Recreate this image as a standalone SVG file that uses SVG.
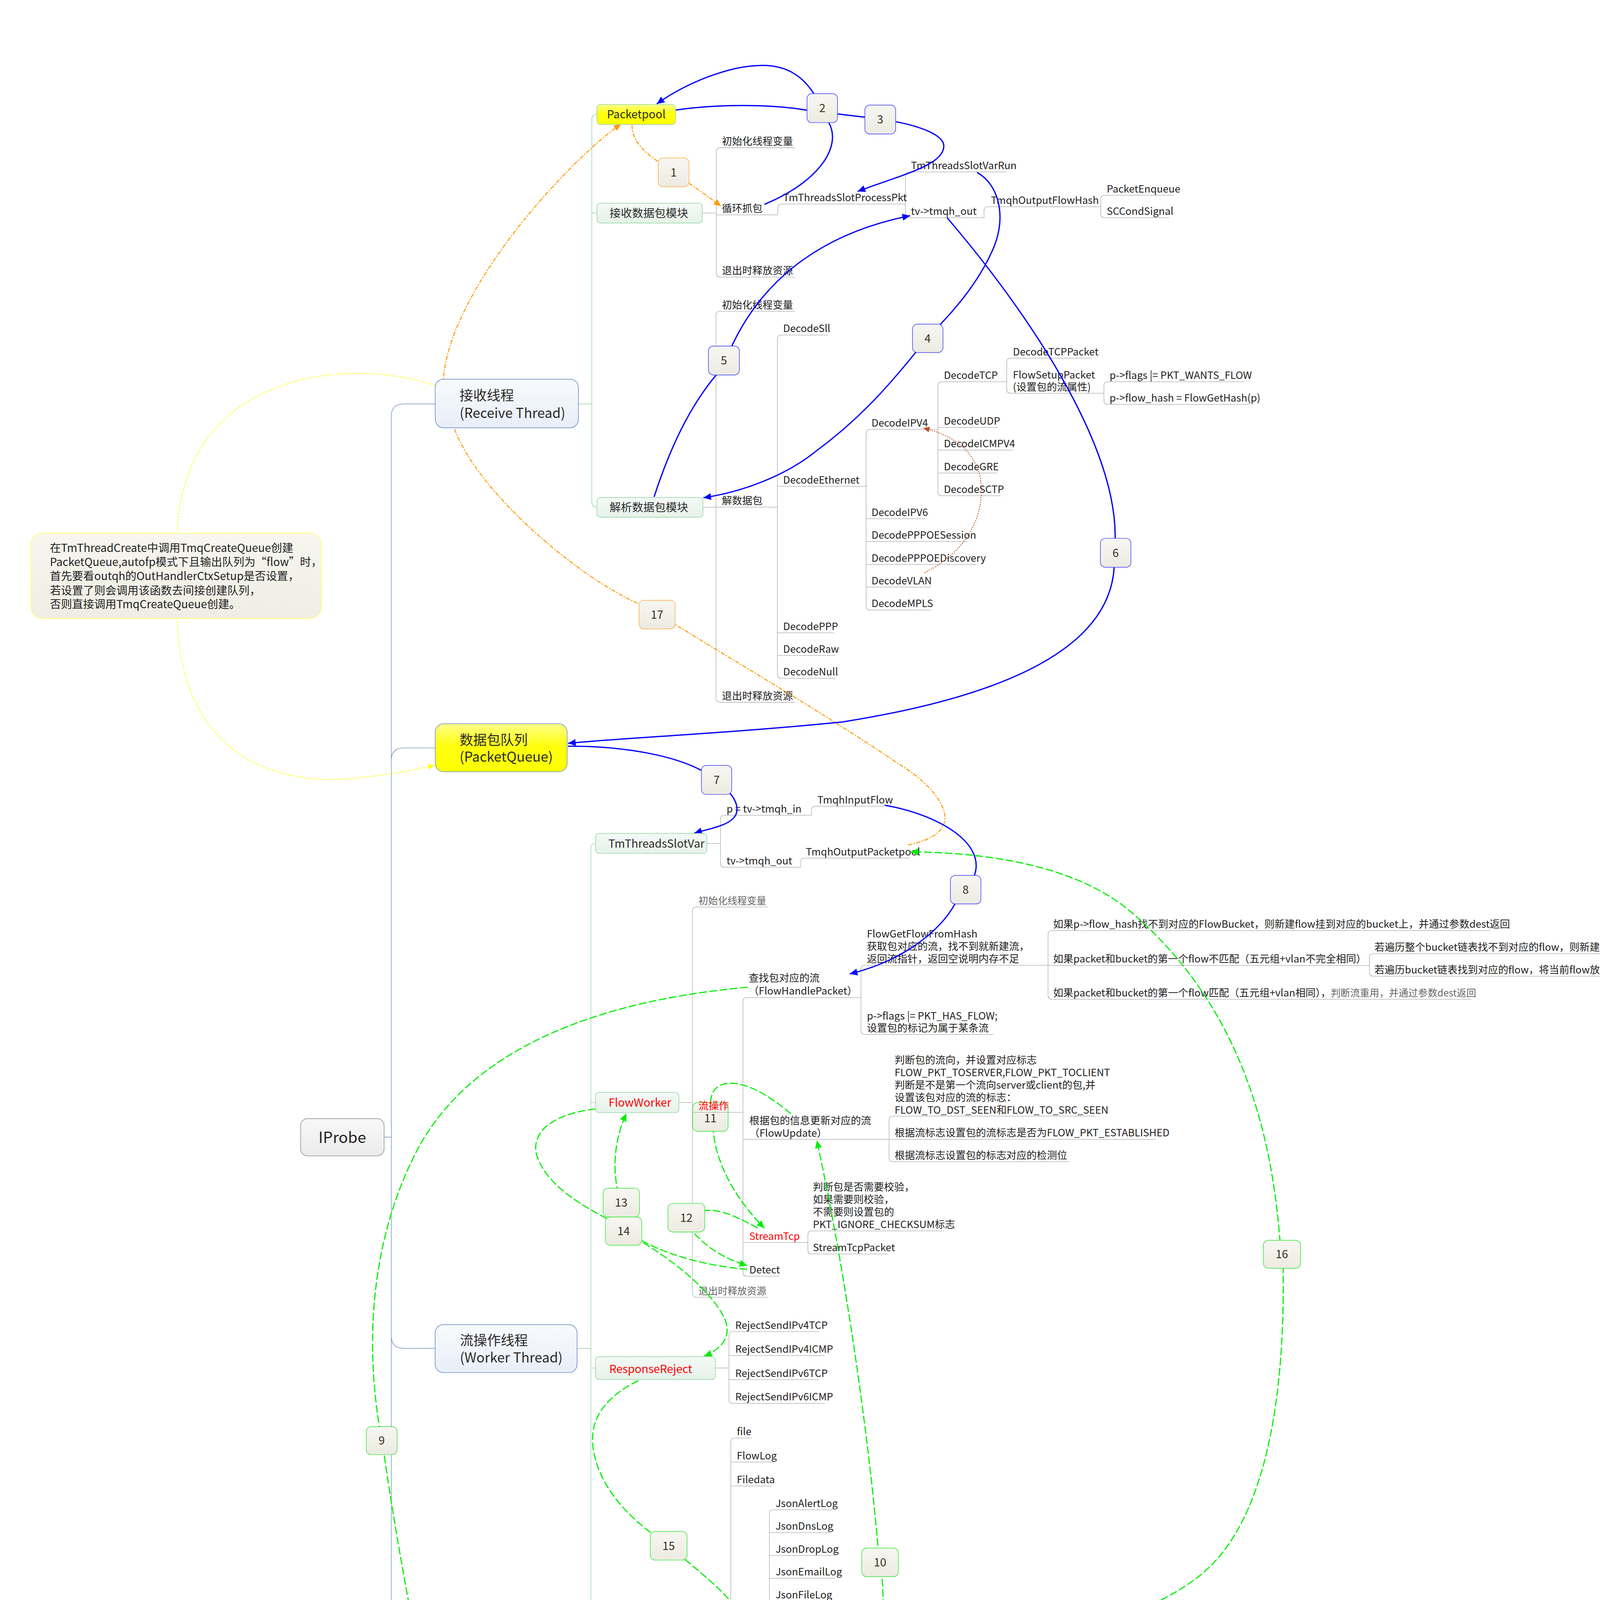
<svg xmlns="http://www.w3.org/2000/svg" width="4818" height="5632" viewBox="0 0 4818 5632">
<defs>
<linearGradient id="gBlue" x1="0" y1="0" x2="0" y2="1"><stop offset="0" stop-color="#f8fafd"/><stop offset="1" stop-color="#e8eef8"/></linearGradient>
<linearGradient id="gYel" x1="0" y1="0" x2="0" y2="1"><stop offset="0" stop-color="#ffff8a"/><stop offset="0.45" stop-color="#ffff10"/><stop offset="1" stop-color="#ffff00"/></linearGradient>
<linearGradient id="gGreen" x1="0" y1="0" x2="0" y2="1"><stop offset="0" stop-color="#f4f9f5"/><stop offset="1" stop-color="#e6f2e9"/></linearGradient>
<linearGradient id="gBadge" x1="0" y1="0" x2="0" y2="1"><stop offset="0" stop-color="#f7f6f1"/><stop offset="1" stop-color="#ecebe2"/></linearGradient>
<linearGradient id="gNote" x1="0" y1="0" x2="0" y2="1"><stop offset="0" stop-color="#f7f6ef"/><stop offset="1" stop-color="#efeee4"/></linearGradient>
<linearGradient id="gGray" x1="0" y1="0" x2="0" y2="1"><stop offset="0" stop-color="#f8f8f8"/><stop offset="1" stop-color="#ebebeb"/></linearGradient>
<marker id="mB" viewBox="0 0 10 10" refX="10" refY="5" markerWidth="5.5" markerHeight="5.5" orient="auto" markerUnits="userSpaceOnUse"><path d="M0,0.5 L10,5 L0,9.5 z" fill="#0000ff"/></marker>
<marker id="mG" viewBox="0 0 10 10" refX="10" refY="5" markerWidth="5.5" markerHeight="5.5" orient="auto" markerUnits="userSpaceOnUse"><path d="M0,0.5 L10,5 L0,9.5 z" fill="#00ee00"/></marker>
<marker id="mR" viewBox="0 0 10 10" refX="10" refY="5" markerWidth="6" markerHeight="6" orient="auto" markerUnits="userSpaceOnUse"><path d="M0,0.5 L10,5 L0,9.5 z" fill="#ff0000"/></marker>
<marker id="mO" viewBox="0 0 10 10" refX="10" refY="5" markerWidth="5" markerHeight="5" orient="auto" markerUnits="userSpaceOnUse"><path d="M0,0.5 L10,5 L0,9.5 z" fill="#ff9900"/></marker>
<marker id="mY" viewBox="0 0 10 10" refX="10" refY="5" markerWidth="4.5" markerHeight="4.5" orient="auto" markerUnits="userSpaceOnUse"><path d="M0,0.5 L10,5 L0,9.5 z" fill="#ffff00"/></marker>
<marker id="mBr" viewBox="0 0 10 10" refX="10" refY="5" markerWidth="4.5" markerHeight="4.5" orient="auto" markerUnits="userSpaceOnUse"><path d="M0,0.5 L10,5 L0,9.5 z" fill="#c0501a"/></marker>
</defs>
<style>
text{font-family:"Noto Sans CJK SC","Liberation Sans",sans-serif;fill:#222;}
.t{font-size:7.23px;}
.tgr{font-size:6.9px;fill:#666;}
.tm{font-size:9.7px;fill:#2a2a2a;}
.ts{font-size:8px;fill:#2a2a2a;}
.tb{font-size:8px;text-anchor:middle;fill:#3a2e1a;}
.red{fill:#ff0000;}
.ln{fill:none;stroke:#a8a8a8;stroke-width:0.35;}
.gl{fill:none;stroke:#96d2a4;stroke-width:0.4;}
.bus{fill:none;stroke:#6f8fc0;stroke-width:0.4;}
.nb{fill:url(#gBlue);stroke:#5a82c0;stroke-width:0.4;}
.ny{fill:url(#gYel);stroke:#6f8fc0;stroke-width:0.4;}
.ng{fill:url(#gGreen);stroke:#8fd3a0;stroke-width:0.4;}
.bgB{fill:url(#gBadge);stroke:#3b3bff;stroke-width:0.4;}
.bgO{fill:url(#gBadge);stroke:#ffae42;stroke-width:0.4;}
.bgG{fill:url(#gBadge);stroke:#33e633;stroke-width:0.4;}
.bgR{fill:url(#gBadge);stroke:#ff3b3b;stroke-width:0.4;}
.cb{fill:none;stroke:#0000ff;stroke-width:0.9;}
.cg{fill:none;stroke:#00ee00;stroke-width:0.8;stroke-dasharray:5.5 1.8;}
.cr{fill:none;stroke:#ff0000;stroke-width:0.85;stroke-dasharray:7.5 2;}
.co{fill:none;stroke:#ff9900;stroke-width:0.7;stroke-dasharray:3 1 1 1;}
.cy{fill:none;stroke:#ffff00;stroke-width:0.6;stroke-dasharray:1 1;}
.cbr{fill:none;stroke:#c0501a;stroke-width:0.6;stroke-dasharray:0.8 0.9;}
</style>
<rect x="0" y="0" width="4818" height="5632" fill="#ffffff"/>
<g transform="scale(3.5955)">

<g id="branches">
<path class="bus" d="M273.5,809.6 H278.6 M309.9,287.6 H287.6 Q278.6,287.6 278.6,296.6 V1524.8 Q278.6,1533.8 287.6,1533.8 H309.6 M278.6,541.5 Q278.6,532.5 287.6,532.5 H309.9 M278.6,951 Q278.6,960 287.6,960 H309.8 M278.6,1378.6 Q278.6,1387.6 287.6,1387.6 H309.6 M278.6,1454.8 Q278.6,1463.8 287.6,1463.8 H309.6"/>
<path class="gl" d="M411.8,287.6 H421.4 M425,81.5 Q421.4,81.5 421.4,85 V357.6 Q421.4,361.2 425,361.2 M421.4,151.7 H425"/>
<path class="gl" d="M410.9,960 H420.7 M424,600.5 Q420.7,600.5 420.7,604 V1185.5 Q420.7,1189 424,1189 M420.7,785 H424 M420.7,974 H424"/>
<path class="gl" d="M408.3,1463.8 H417.7 M421.4,1427 Q417.7,1427 417.7,1430.5 V1497.5 Q417.7,1501 421.4,1501 M417.7,1448 H421.4 M417.7,1474.5 H421.4"/>
<path class="ln" d="M500,151.7 H510 M513,105.2 Q510,105.2 510,108 V194.5 Q510,197.3 513,197.3"/>
<path class="ln" d="M647.5,122.4 Q644.7,122.4 644.7,125.2 V152.2 Q644.7,155 647.5,155"/>
<path class="ln" d="M782.6,147.2 H783.7 M786.5,139 Q783.7,139 783.7,141.8 V152.2 Q783.7,155 786.5,155"/>
<path class="ln" d="M500.5,361.2 H509.8 M512.6,221.6 Q509.8,221.6 509.8,224.4 V497.2 Q509.8,500 512.6,500"/>
<path class="ln" d="M556.3,238.5 Q553.5,238.5 553.5,241.3 V480.1 Q553.5,482.9 556.3,482.9"/>
<path class="ln" d="M619.5,305.7 Q616.7,305.7 616.7,308.5 V431.5 Q616.7,434.3 619.5,434.3"/>
<path class="ln" d="M670.6,271.8 Q667.8,271.8 667.8,274.6 V350.2 Q667.8,353 670.6,353"/>
<path class="ln" d="M719.6,255 Q716.8,255 716.8,257.8 V277.2 Q716.8,280 719.6,280"/>
<path class="ln" d="M788.8,271.8 Q786,271.8 786,274.6 V285.1 Q786,287.9 788.8,287.9"/>
<path class="ln" d="M503.3,600.6 H513 M515.8,580.5 Q513,580.5 513,583.3 V614.7 Q513,617.5 515.8,617.5"/>
<path class="ln" d="M483.4,785 H493 M495.8,645.8 Q493,645.8 493,648.6 V920.8 Q493,923.6 495.8,923.6"/>
<path class="ln" d="M531.8,710.3 Q529,710.3 529,713.1 V905.9 Q529,908.7 531.8,908.7"/>
<path class="ln" d="M615.8,687.3 Q613,687.3 613,690.1 V733.7 Q613,736.5 615.8,736.5"/>
<path class="ln" d="M749,662.6 Q746.2,662.6 746.2,665.4 V708.7 Q746.2,711.5 749,711.5"/>
<path class="ln" d="M977.8,679 Q975,679 975,681.8 V692.3 Q975,695.1 977.8,695.1"/>
<path class="ln" d="M635.8,794.7 Q633,794.7 633,797.5 V824.3 Q633,827.1 635.8,827.1"/>
<path class="ln" d="M578,876.4 Q575.2,876.4 575.2,879.2 V890 Q575.2,892.8 578,892.8"/>
<path class="ln" d="M509.4,974 H519 M521.8,948.1 Q519,948.1 519,950.9 V996.4 Q519,999.2 521.8,999.2"/>
<path class="ln" d="M510.7,1189.2 H520.3 M523.1,1023.9 Q520.3,1023.9 520.3,1026.7 V1352.6 Q520.3,1355.4 523.1,1355.4"/>
<path class="ln" d="M550.6,1075 Q547.8,1075 547.8,1077.8 V1267.2 Q547.8,1270 550.6,1270"/>
</g>

<g id="leaves">
<g id="n-recv-init"><path class="ln" d="M513,105.2 H566"/><text class="t" x="514" y="103.2">初始化线程变量</text></g>
<g id="n-loop"><path class="ln" d="M510,153 H553.8"/><text class="t" x="514" y="151">循环抓包</text></g>
<g id="n-recv-exit"><path class="ln" d="M513,197.3 H566"/><text class="t" x="514" y="195.3">退出时释放资源</text></g>
<g id="n-processpkt"><path class="ln" d="M553.8,153 V148 Q553.8,145.3 556.6,145.3 H644.7"/><text class="t" x="557.6" y="143.3">TmThreadsSlotProcessPkt</text></g>
<g id="n-varrun"><path class="ln" d="M647.5,122.4 H716.7"/><text class="t" x="648.6" y="120.4">TmThreadsSlotVarRun</text></g>
<g id="n-tmqhout1"><path class="ln" d="M647.5,155 H700.6"/><text class="t" x="648.6" y="153">tv-&gt;tmqh_out</text></g>
<g id="n-flowhash"><path class="ln" d="M700.6,155 V150 Q700.6,147.2 703.4,147.2 H782.6"/><text class="t" x="705.5" y="145.2">TmqhOutputFlowHash</text></g>
<g id="n-enqueue"><path class="ln" d="M786.5,139 H835.5"/><text class="t" x="788" y="137">PacketEnqueue</text></g>
<g id="n-signal"><path class="ln" d="M786.5,155 H832.6"/><text class="t" x="788" y="153">SCCondSignal</text></g>
<g id="n-dec-init"><path class="ln" d="M512.6,221.6 H566"/><text class="t" x="514" y="219.6">初始化线程变量</text></g>
<g id="n-decode"><path class="ln" d="M509.8,361.1 H553.5"/><text class="t" x="514" y="359.1">解数据包</text></g>
<g id="n-dec-exit"><path class="ln" d="M512.6,500 H566"/><text class="t" x="514" y="498">退出时释放资源</text></g>
<g id="n-sll"><path class="ln" d="M556.3,238.5 H589.6"/><text class="t" x="557.6" y="236.5">DecodeSll</text></g>
<g id="n-eth"><path class="ln" d="M553.5,346.2 H616.7"/><text class="t" x="557.6" y="344.2">DecodeEthernet</text></g>
<g id="n-ppp"><path class="ln" d="M553.5,450.5 H593.8"/><text class="t" x="557.6" y="448.5">DecodePPP</text></g>
<g id="n-raw"><path class="ln" d="M553.5,466.7 H595"/><text class="t" x="557.6" y="464.7">DecodeRaw</text></g>
<g id="n-null"><path class="ln" d="M556.3,482.9 H595"/><text class="t" x="557.6" y="480.9">DecodeNull</text></g>
<g id="n-ipv4"><path class="ln" d="M619.5,305.7 H667.8"/><text class="t" x="620.5" y="303.7">DecodeIPV4</text></g>
<g id="n-ipv6"><path class="ln" d="M616.7,369.3 H659"/><text class="t" x="620.5" y="367.3">DecodeIPV6</text></g>
<g id="n-pppoes"><path class="ln" d="M616.7,385.6 H688.6"/><text class="t" x="620.5" y="383.6">DecodePPPOESession</text></g>
<g id="n-pppoed"><path class="ln" d="M616.7,401.9 H695.3"/><text class="t" x="620.5" y="399.9">DecodePPPOEDiscovery</text></g>
<g id="n-vlan"><path class="ln" d="M616.7,418 H663"/><text class="t" x="620.5" y="416">DecodeVLAN</text></g>
<g id="n-mpls"><path class="ln" d="M619.5,434.3 H663"/><text class="t" x="620.5" y="432.3">DecodeMPLS</text></g>
<g id="n-tcp"><path class="ln" d="M670.6,271.8 H716.8"/><text class="t" x="672" y="269.8">DecodeTCP</text></g>
<g id="n-udp"><path class="ln" d="M667.8,304.4 H710.3"/><text class="t" x="672" y="302.4">DecodeUDP</text></g>
<g id="n-icmp"><path class="ln" d="M667.8,320.5 H721"/><text class="t" x="672" y="318.5">DecodeICMPV4</text></g>
<g id="n-gre"><path class="ln" d="M667.8,336.8 H709.8"/><text class="t" x="672" y="334.8">DecodeGRE</text></g>
<g id="n-sctp"><path class="ln" d="M670.6,353 H712.6"/><text class="t" x="672" y="351">DecodeSCTP</text></g>
<g id="n-tcppkt"><path class="ln" d="M719.6,255 H777.4"/><text class="t" x="721.2" y="253">DecodeTCPPacket</text></g>
<g id="n-flowsetup"><path class="ln" d="M719.6,280 H786"/><text class="t" x="721.2" y="269.6">FlowSetupPacket</text><text class="t" x="721.2" y="278">(设置包的流属性)</text></g>
<g id="n-wants"><path class="ln" d="M788.8,271.8 H885.6"/><text class="t" x="790" y="269.8">p-&gt;flags |= PKT_WANTS_FLOW</text></g>
<g id="n-gethash"><path class="ln" d="M788.8,287.9 H889.5"/><text class="t" x="790" y="285.9">p-&gt;flow_hash = FlowGetHash(p)</text></g>

<g id="n-tmqhin"><path class="ln" d="M515.8,580.5 H577.8"/><text class="t" x="517.3" y="578.5">p = tv-&gt;tmqh_in</text></g>
<g id="n-tmqhout2"><path class="ln" d="M515.8,617.5 H570"/><text class="t" x="517.3" y="615.5">tv-&gt;tmqh_out</text></g>
<g id="n-inputflow"><path class="ln" d="M577.8,580.5 V576.8 Q577.8,574 580.6,574 H630"/><text class="t" x="582" y="572">TmqhInputFlow</text></g>
<g id="n-outpool"><path class="ln" d="M570,617.5 V613.8 Q570,611 572.8,611 H647.7"/><text class="t" x="573.8" y="609">TmqhOutputPacketpool</text></g>
<g id="n-fw-init"><path class="ln" d="M495.8,645.8 H546.8"/><text class="tgr" x="497.3" y="643.8">初始化线程变量</text></g>
<g id="n-fw-exit"><path class="ln" d="M495.8,923.6 H546.6"/><text class="tgr" x="497.3" y="921.6">退出时释放资源</text></g>
<g id="n-handle"><path class="ln" d="M531.8,710.3 H613"/><text class="t" x="533" y="699">查找包对应的流</text><text class="t" x="533" y="708.2">（FlowHandlePacket）</text></g>
<g id="n-update"><path class="ln" d="M529,811.2 H633"/><text class="t" x="533.5" y="800.4">根据包的信息更新对应的流</text><text class="t" x="533.5" y="809.3">（FlowUpdate）</text></g>
<g id="n-streamtcp"><path class="ln" d="M529,884.7 H575.2"/><text class="t red" x="533.5" y="882.8">StreamTcp</text></g>
<g id="n-detect"><path class="ln" d="M531.8,908.7 H555"/><text class="t" x="533.5" y="906.7">Detect</text></g>
<g id="n-getflow"><path class="ln" d="M615.8,687.3 H746.2"/><text class="t" x="617.2" y="667.6">FlowGetFlowFromHash</text><text class="t" x="617.2" y="676.5">获取包对应的流，找不到就新建流，</text><text class="t" x="617.2" y="685.3">返回流指针，返回空说明内存不足</text></g>
<g id="n-hasflow"><path class="ln" d="M615.8,736.5 H707.6"/><text class="t" x="617.2" y="726">p-&gt;flags |= PKT_HAS_FLOW;</text><text class="t" x="617.2" y="734.6">设置包的标记为属于某条流</text></g>
<g id="n-nobucket"><path class="ln" d="M749,662.6 H1061"/><text class="t" x="749.8" y="660.6">如果p-&gt;flow_hash找不到对应的FlowBucket，则新建flow挂到对应的bucket上，并通过参数dest返回</text></g>
<g id="n-nomatch"><path class="ln" d="M746.2,687.4 H975"/><text class="t" x="749.8" y="685.4">如果packet和bucket的第一个flow不匹配（五元组+vlan不完全相同）</text></g>
<g id="n-match"><path class="ln" d="M749,711.5 H1047.7"/><text class="t" x="749.8" y="709.5">如果packet和bucket的第一个flow匹配（五元组+vlan相同），<tspan class="tgr">判断流重用，并通过参数dest返回</tspan></text></g>
<g id="n-notfound"><path class="ln" d="M977.8,679 H1279"/><text class="t" x="978.6" y="677">若遍历整个bucket链表找不到对应的flow，则新建flow<tspan class="tgr">挂到对应的bucket上，并通过参数dest返回</tspan></text></g>
<g id="n-found"><path class="ln" d="M977.8,695.1 H1319"/><text class="t" x="978.6" y="693.1">若遍历bucket链表找到对应的flow，将当前flow放到bucket的flow-&gt;head，判断流重用，并通过参数dest返回</text></g>
<g id="n-direction"><path class="ln" d="M635.8,794.7 H779.3"/><text class="t" x="637" y="757.4">判断包的流向，并设置对应标志</text><text class="t" x="637" y="766.2">FLOW_PKT_TOSERVER,FLOW_PKT_TOCLIENT</text><text class="t" x="637" y="775.1">判断是不是第一个流向server或client的包,并</text><text class="t" x="637" y="784">设置该包对应的流的标志：</text><text class="t" x="637" y="792.8">FLOW_TO_DST_SEEN和FLOW_TO_SRC_SEEN</text></g>
<g id="n-established"><path class="ln" d="M633,811.2 H823"/><text class="t" x="637" y="809.2">根据流标志设置包的流标志是否为FLOW_PKT_ESTABLISHED</text></g>
<g id="n-detectbits"><path class="ln" d="M635.8,827.1 H761.3"/><text class="t" x="637" y="825.1">根据流标志设置包的标志对应的检测位</text></g>
<g id="n-checksum"><path class="ln" d="M578,876.4 H672.2"/><text class="t" x="578.8" y="847.8">判断包是否需要校验，</text><text class="t" x="578.8" y="856.7">如果需要则校验，</text><text class="t" x="578.8" y="865.6">不需要则设置包的</text><text class="t" x="578.8" y="874.4">PKT_IGNORE_CHECKSUM标志</text></g>
<g id="n-tcppacket"><path class="ln" d="M578,892.8 H632.2"/><text class="t" x="578.8" y="890.8">StreamTcpPacket</text></g>
<g id="n-rej1"><path class="ln" d="M521.8,948.1 H583"/><text class="t" x="523.5" y="946.1">RejectSendIPv4TCP</text></g>
<g id="n-rej2"><path class="ln" d="M519,965.2 H587"/><text class="t" x="523.5" y="963.2">RejectSendIPv4ICMP</text></g>
<g id="n-rej3"><path class="ln" d="M519,982.3 H583"/><text class="t" x="523.5" y="980.3">RejectSendIPv6TCP</text></g>
<g id="n-rej4"><path class="ln" d="M521.8,999.2 H587"/><text class="t" x="523.5" y="997.2">RejectSendIPv6ICMP</text></g>
<g id="n-file"><path class="ln" d="M523.1,1023.9 H535"/><text class="t" x="524.6" y="1021.9">file</text></g>
<g id="n-flowlog"><path class="ln" d="M520.3,1041 H551.8"/><text class="t" x="524.6" y="1039">FlowLog</text></g>
<g id="n-filedata"><path class="ln" d="M520.3,1058 H549.8"/><text class="t" x="524.6" y="1056">Filedata</text></g>
<g id="n-json"><path class="ln" d="M520.3,1172.8 H547.8"/><text class="t" x="524.6" y="1170.8">Json</text></g>
<g id="n-lualog"><path class="ln" d="M520.3,1287.2 H548.3"/><text class="t" x="524.6" y="1285.2">LuaLog</text></g>
<g id="n-packetlog"><path class="ln" d="M520.3,1304.3 H557"/><text class="t" x="524.6" y="1302.3">PacketLog</text></g>
<g id="n-statslog"><path class="ln" d="M520.3,1321.3 H552.2"/><text class="t" x="524.6" y="1319.3">StatsLog</text></g>
<g id="n-streaminglog"><path class="ln" d="M520.3,1338.4 H568.2"/><text class="t" x="524.6" y="1336.4">StreamingLog</text></g>
<g id="n-txlog"><path class="ln" d="M523.1,1355.4 H543.7"/><text class="t" x="524.6" y="1353.4">TxLog</text></g>
<g id="n-j1"><path class="ln" d="M550.6,1075 H593"/><text class="t" x="552.2" y="1073">JsonAlertLog</text></g>
<g id="n-j2"><path class="ln" d="M547.8,1091.25 H590.3"/><text class="t" x="552.2" y="1089.25">JsonDnsLog</text></g>
<g id="n-j3"><path class="ln" d="M547.8,1107.5 H594.2"/><text class="t" x="552.2" y="1105.5">JsonDropLog</text></g>
<g id="n-j4"><path class="ln" d="M547.8,1123.75 H594.8"/><text class="t" x="552.2" y="1121.75">JsonEmailLog</text></g>
<g id="n-j5"><path class="ln" d="M547.8,1140 H589"/><text class="t" x="552.2" y="1138">JsonFileLog</text></g>
<g id="n-j6"><path class="ln" d="M547.8,1156.25 H592.4"/><text class="t" x="552.2" y="1154.25">JsonFlowLog</text></g>
<g id="n-j7"><path class="ln" d="M547.8,1172.5 H592.4"/><text class="t" x="552.2" y="1170.5">JsonHttpLog</text></g>
<g id="n-j8"><path class="ln" d="M547.8,1188.75 H603.6"/><text class="t" x="552.2" y="1186.75">JsonNetFlowLog</text></g>
<g id="n-j9"><path class="ln" d="M547.8,1205 H594.8"/><text class="t" x="552.2" y="1203">JsonSmtpLog</text></g>
<g id="n-j10"><path class="ln" d="M547.8,1221.25 H589"/><text class="t" x="552.2" y="1219.25">JsonSshLog</text></g>
<g id="n-j11"><path class="ln" d="M547.8,1237.5 H593"/><text class="t" x="552.2" y="1235.5">JsonStatsLog</text></g>
<g id="n-j12"><path class="ln" d="M547.8,1253.75 H606"/><text class="t" x="552.2" y="1251.75">JsonTemplateLog</text></g>
<g id="n-j13"><path class="ln" d="M550.6,1270 H586.8"/><text class="t" x="552.2" y="1268">JsonTlsLog</text></g>
</g>

<g id="connectors">
<path class="cy" d="M309.3,274.2 C240,252 130,270 126.3,379"/>
<path class="cy" d="M126.3,440.8 C128,510 165,556 240,555 C270,553 290,549 309.3,545" marker-end="url(#mY)"/>
<path class="co" d="M450,89 C450,100 458,108 470,116 L490.6,130.5 C500,137 507,142 513.3,146.7" marker-end="url(#mO)"/>
<path class="co" d="M646.5,601.6 C665,598 676,590 672,577 C668,565 655,553 640,544 C590,510 530,475 480.7,444.6 L455,430 C410,410 340,350 323.5,305.2 C284.4,244.9 397.6,119.3 442,88.4" marker-end="url(#mO)"/>
<path class="cb" d="M544.2,145.5 C582,130 600,105 590,87 C578,58 565,46 541,46.6 C520,47 490,58 467.6,74" marker-end="url(#mB)"/>
<path class="cb" d="M481,78.4 C510,74 550,74 575,78.6 L616,83.5 L638,86.7 C655,90 672,96 672,104 C672,118 640,125 610.6,136.3" marker-end="url(#mB)"/>
<path class="cb" d="M695.7,122.8 C712,132 716,155 708,175 C700,195 685,215 668.5,232 L651.7,251.2 C630,278 610,300 580,322 C560,338 530,350 500.8,354.4" marker-end="url(#mB)"/>
<path class="cb" d="M465.7,353.8 C480,310 495,285 509.8,267.1 L521,246.5 C545,195 590,165 648,153.6" marker-end="url(#mB)"/>
<path class="cb" d="M674.3,155 C730,220 795,315 794,383.4 L793.3,403.8 C790,460 720,495 600,514 C520,522 450,525 404.4,529.2" marker-end="url(#mB)"/>
<path class="cb" d="M404.4,531.3 C440,531 480,537 502,550 C515,558 528,570 524,580 C520,588 505,590 494.3,593.2" marker-end="url(#mB)"/>
<path class="cb" d="M629.9,573.3 C668,580 702,600 693.8,623.3 L680,643.5 C668,665 640,685 605,693.4" marker-end="url(#mB)"/>
<path class="cbr" d="M658.3,407.8 C690,392 702,365 698,340 C694,322 680,310 657.3,304.8" marker-end="url(#mBr)"/>
<path class="cg" d="M532.3,702.9 C430,712 330,745 292.7,827.7 C270,875 258,940 270,1015 L273.6,1036.3 C290,1150 320,1290 342.8,1369.5" marker-end="url(#mG)"/>
<path class="cg" d="M396.9,1379 C480,1355 560,1320 600,1270 C625,1235 632,1180 628,1122.6 L625.2,1102.2 C620,1040 605,920 581.6,812" marker-end="url(#mG)"/>
<path class="cg" d="M563.1,792.9 C550,782 530,768 515,772 C508,774 506,780 506,785 L507.9,805.5 C510,830 525,855 544.3,874.5" marker-end="url(#mG)"/>
<path class="cg" d="M539.6,874.4 C528,868 512,860 501.8,862 L494.2,878 C505,890 518,897 532,901" marker-end="url(#mG)"/>
<path class="cg" d="M532,903.8 C510,902 480,896 456.9,883.3 L443,866 L439.6,846.3 C436,830 438,810 446,792.8" marker-end="url(#mG)"/>
<path class="cg" d="M424,789.5 C395,793 378,805 382,822 C388,842 410,856 431,867 L456.6,884 C480,898 505,918 515,937 C522,950 515,960 501.3,965.6" marker-end="url(#mG)"/>
<path class="cg" d="M454.5,983 C430,995 418,1012 423,1035 C428,1060 448,1080 464,1091.6 L488.3,1110.8 C505,1125 525,1140 532,1160 C537,1175 525,1180 511,1181.8" marker-end="url(#mG)"/>
<path class="cg" d="M511.2,1188.5 C650,1185 790,1170 850,1125 C900,1090 915,1000 913.6,903 L911.3,883 C905,800 880,710 800,645 C760,615 700,607 648.3,606.5" marker-end="url(#mG)"/>
<path class="cr" d="M481,1441 C500,1436 515,1430 518.3,1419.8 L500.2,1402.6 C480,1396 440,1390 397.5,1389" marker-end="url(#mR)"/>
<path class="cr" d="M505.5,1464.5 C530,1455 558,1440 566.2,1416.4 L570,1396 C566,1380 545,1374 510,1374.5 C470,1375 430,1378 397.5,1382.5" marker-end="url(#mR)"/>
</g>

<g id="n-iprobe"><rect x="214" y="796.5" width="59.5" height="26.5" rx="5" fill="url(#gGray)" stroke="#8a8a8a" stroke-width="0.4"/><text x="243.7" y="813.8" font-size="11" text-anchor="middle" fill="#333">IProbe</text></g>
<g id="n-note"><rect x="22.1" y="379.6" width="206.6" height="60.7" rx="8" fill="url(#gNote)" stroke="#ffff66" stroke-width="0.5"/>
<text font-size="7.9" fill="#2a2a2a"><tspan x="35.5" y="393.1">在TmThreadCreate中调用TmqCreateQueue创建</tspan><tspan x="35.5" y="403.1">PacketQueue,autofp模式下且输出队列为“flow”时，</tspan><tspan x="35.5" y="413.1">首先要看outqh的OutHandlerCtxSetup是否设置，</tspan><tspan x="35.5" y="423.3">若设置了则会调用该函数去间接创建队列，</tspan><tspan x="35.5" y="433.1">否则直接调用TmqCreateQueue创建。</tspan></text></g>

<g id="n-receive"><rect class="nb" x="309.9" y="270" width="101.9" height="34.6" rx="6"/><text class="tm" x="327.2" y="285.1">接收线程</text><text class="tm" x="327.2" y="297.5">(Receive Thread)</text></g>
<g id="n-packetqueue"><rect class="ny" x="309.9" y="515.3" width="93.9" height="34.2" rx="6"/><text class="tm" x="327.2" y="530.5">数据包队列</text><text class="tm" x="327.2" y="542.4">(PacketQueue)</text></g>
<g id="n-worker"><rect class="nb" x="309.8" y="943.1" width="101.1" height="34.2" rx="6"/><text class="tm" x="327.4" y="957.8">流操作线程</text><text class="tm" x="327.4" y="970.1">(Worker Thread)</text></g>
<g id="n-flowqueue"><rect class="ny" x="309.6" y="1370.5" width="87.3" height="34.5" rx="6"/><text class="tm" x="327.2" y="1385.7">流队列</text><text class="tm" x="327.2" y="1398.3">(FlowQueue)</text></g>
<g id="n-flowmanager"><rect class="nb" x="309.6" y="1447.3" width="98.7" height="34.2" rx="6"/><text class="tm" x="327.2" y="1461.7">流管理线程</text><text class="tm" x="327.2" y="1474.2">(Flow Manager)</text></g>
<g id="n-topic"><rect class="nb" x="309.6" y="1523.3" width="50.4" height="22.2" rx="5"/><text class="tm" x="335" y="1537.9" text-anchor="middle" fill="#444">主题</text></g>

<g id="n-packetpool"><rect x="425" y="74.4" width="56" height="14.2" rx="2.5" fill="url(#gYel)" stroke="#8fd3a0" stroke-width="0.4"/><text class="ts" x="453" y="84.4" text-anchor="middle">Packetpool</text></g>
<g id="n-recvmod"><rect class="ng" x="425" y="144.7" width="75" height="14.1" rx="2.5"/><text class="ts" x="434" y="154.6">接收数据包模块</text></g>
<g id="n-decmod"><rect class="ng" x="425" y="354.2" width="75.5" height="14.1" rx="2.5"/><text class="ts" x="434" y="364.2">解析数据包模块</text></g>
<g id="n-slotvar"><rect class="ng" x="424" y="593.4" width="79.3" height="14.2" rx="2.5"/><text class="ts" x="433.2" y="603.4">TmThreadsSlotVar</text></g>
<g id="n-flowworker"><rect class="ng" x="424" y="777.8" width="59.4" height="14.4" rx="2.5"/><text class="ts red" x="433.3" y="787.8">FlowWorker</text></g>
<g id="n-reject"><rect class="ng" x="424" y="966" width="85.4" height="16.2" rx="2.5"/><text class="ts red" x="433.8" y="977.6" font-size="9.5">ResponseReject</text></g>
<g id="n-output"><rect class="ng" x="424" y="1175.8" width="86.7" height="28.2" rx="4"/><text class="ts" x="437" y="1187.5" font-size="9.4">日志输出模块</text><text class="ts" x="437" y="1200" font-size="9.4">(Output)</text></g>
<g id="n-fm-init"><rect class="ng" x="421.4" y="1419.8" width="75.3" height="14.2" rx="2.5"/><text class="ts" x="430.7" y="1429.8">初始化线程变量</text></g>
<g id="n-fm-timeout"><rect class="ng" x="421.4" y="1441" width="59.6" height="14.2" rx="2.5"/><text class="ts" x="430.7" y="1451">处理流超时</text></g>
<g id="n-fm-emerg"><rect class="ng" x="421.4" y="1462.4" width="84" height="24.2" rx="3"/><text class="ts" x="432.8" y="1472.4">紧急情况处理</text><text class="ts" x="432.8" y="1482.6">(资源不足时启用)</text></g>
<g id="n-fm-exit"><rect class="ng" x="421.4" y="1493.8" width="75.3" height="14.2" rx="2.5"/><text class="ts" x="430.7" y="1503.8">退出时释放资源</text></g>

<g id="badges">
<g id="b-o1"><rect class="bgO" x="468.6" y="112.5" width="22" height="20.5" rx="3.5"/><text class="tb" x="479.6" y="125.6">1</text></g>
<g id="b-2"><rect class="bgB" x="574.6" y="66.7" width="21.7" height="20.6" rx="3.5"/><text class="tb" x="585.5" y="79.9">2</text></g>
<g id="b-3"><rect class="bgB" x="615.8" y="74.8" width="21.9" height="20.6" rx="3.5"/><text class="tb" x="626.7" y="88">3</text></g>
<g id="b-4"><rect class="bgB" x="649.7" y="230.8" width="21.7" height="20.2" rx="3.5"/><text class="tb" x="660.5" y="243.8">4</text></g>
<g id="b-5"><rect class="bgB" x="504.4" y="246.4" width="22" height="20.6" rx="3.5"/><text class="tb" x="515.4" y="259.6">5</text></g>
<g id="b-6"><rect class="bgB" x="783.5" y="383.3" width="21.7" height="20.6" rx="3.5"/><text class="tb" x="794.3" y="396.5">6</text></g>
<g id="b-7"><rect class="bgB" x="499.4" y="545" width="21.6" height="20.6" rx="3.5"/><text class="tb" x="510.2" y="558.2">7</text></g>
<g id="b-8"><rect class="bgB" x="676.7" y="623.3" width="21.7" height="20.3" rx="3.5"/><text class="tb" x="687.5" y="636.3">8</text></g>
<g id="b-17"><rect class="bgO" x="455" y="427.4" width="25.7" height="20.4" rx="3.5"/><text class="tb" x="467.8" y="440.5">17</text></g>
<g id="b-9"><rect class="bgG" x="260.8" y="1015.8" width="21.9" height="19.9" rx="3.5"/><text class="tb" x="271.7" y="1028.6">9</text></g>
<g id="b-10"><rect class="bgG" x="613.6" y="1102.2" width="26" height="20.4" rx="3.5"/><text class="tb" x="626.6" y="1115.3">10</text></g>
<g id="b-11"><rect class="bgG" x="493.2" y="785" width="25.2" height="20.5" rx="3.5"/><text class="tb" x="505.8" y="799">11</text></g>
<g id="b-12"><rect class="bgG" x="475.6" y="856.8" width="26.2" height="20.4" rx="3.5"/><text class="tb" x="488.7" y="869.9">12</text></g>
<g id="b-13"><rect class="bgG" x="429.4" y="846" width="25.9" height="20.5" rx="3.5"/><text class="tb" x="442.3" y="859.1">13</text></g>
<g id="b-14"><rect class="bgG" x="431" y="866.5" width="25.9" height="20.1" rx="3.5"/><text class="tb" x="444" y="879.4">14</text></g>
<g id="b-15"><rect class="bgG" x="463" y="1090.4" width="26.2" height="20.4" rx="3.5"/><text class="tb" x="476.1" y="1103.5">15</text></g>
<g id="b-16"><rect class="bgG" x="899.5" y="883.1" width="26.5" height="19.9" rx="3.5"/><text class="tb" x="912.7" y="895.9">16</text></g>
<g id="b-r1"><rect class="bgR" x="500" y="1399" width="21.5" height="21" rx="3.5"/><text class="tb" x="510.8" y="1412.4">1</text></g>
<g id="b-r2"><rect class="bgR" x="558" y="1396" width="22" height="20.5" rx="3.5"/><text class="tb" x="569" y="1409.1">2</text></g>
</g>
<g id="n-flowop"><path class="ln" d="M493,792 H529"/><text class="t red" x="497.3" y="790">流操作</text></g>
</g>
</svg>
